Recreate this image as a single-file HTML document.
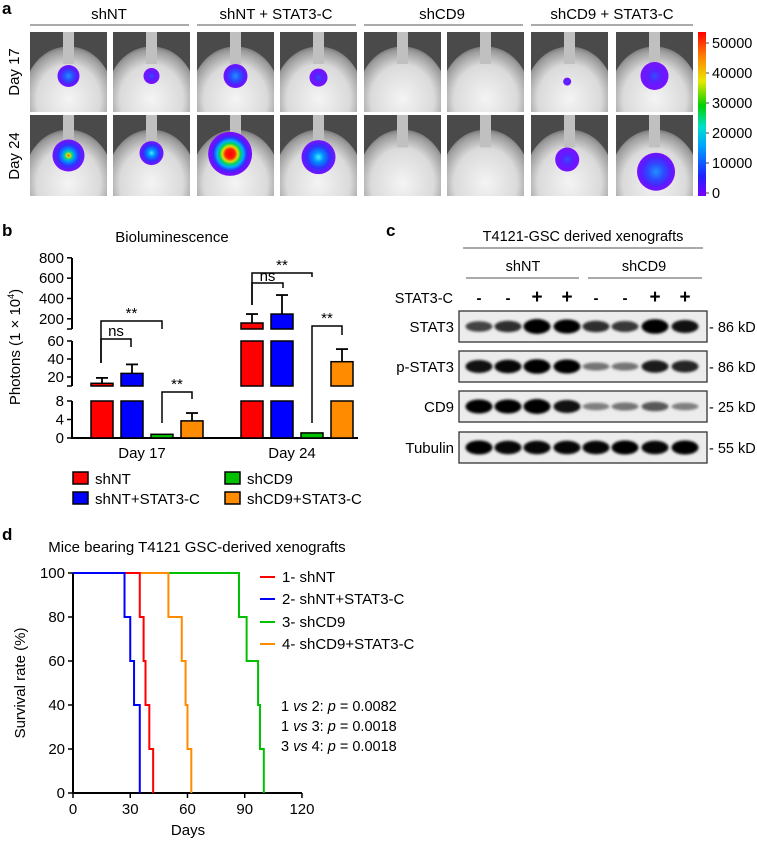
<!DOCTYPE html>
<html><head><meta charset="utf-8"><style>
html,body{margin:0;padding:0;background:#fff;}
svg{display:block;font-family:"Liberation Sans",Arial,sans-serif;}
</style></head><body>
<svg id="fig" width="757" height="841" viewBox="0 0 757 841" xmlns="http://www.w3.org/2000/svg">
<defs>
<linearGradient id="cbar" x1="0" y1="1" x2="0" y2="0">
<stop offset="0" stop-color="#7a00ff"/><stop offset="0.12" stop-color="#2020ff"/><stop offset="0.3" stop-color="#00a0ff"/><stop offset="0.42" stop-color="#00e0d0"/><stop offset="0.55" stop-color="#00d000"/><stop offset="0.7" stop-color="#e8e800"/><stop offset="0.85" stop-color="#ff8000"/><stop offset="1" stop-color="#ff0000"/>
</linearGradient>
<radialGradient id="mouse" cx="0.5" cy="0.55" r="0.6">
<stop offset="0" stop-color="#f4f4f4"/><stop offset="0.6" stop-color="#dadada"/><stop offset="0.85" stop-color="#9a9a9a"/><stop offset="1" stop-color="#505050"/>
</radialGradient>
<radialGradient id="hot"><stop offset="0" stop-color="#ff0000"/><stop offset="0.22" stop-color="#ff2000"/><stop offset="0.35" stop-color="#e0e000"/><stop offset="0.48" stop-color="#00d060"/><stop offset="0.6" stop-color="#00b0ff"/><stop offset="0.75" stop-color="#3030ff"/><stop offset="0.88" stop-color="#6a10ff"/><stop offset="1" stop-color="#7a10ff"/></radialGradient>
<radialGradient id="mid"><stop offset="0" stop-color="#ff2020"/><stop offset="0.1" stop-color="#e0e000"/><stop offset="0.25" stop-color="#00d0a0"/><stop offset="0.4" stop-color="#0090ff"/><stop offset="0.65" stop-color="#3030ff"/><stop offset="1" stop-color="#7a10ff"/></radialGradient>
<radialGradient id="cyan"><stop offset="0" stop-color="#40f0ff"/><stop offset="0.3" stop-color="#0090ff"/><stop offset="0.65" stop-color="#3030ff"/><stop offset="1" stop-color="#7a10ff"/></radialGradient>
<radialGradient id="blue"><stop offset="0" stop-color="#2090ff"/><stop offset="0.4" stop-color="#2a50ff"/><stop offset="0.75" stop-color="#5020ff"/><stop offset="1" stop-color="#7a10ff"/></radialGradient>
<radialGradient id="low"><stop offset="0" stop-color="#3050ff"/><stop offset="0.4" stop-color="#5a20ff"/><stop offset="1" stop-color="#7a10ff"/></radialGradient>
<filter id="blur" x="-30%" y="-80%" width="160%" height="260%"><feGaussianBlur stdDeviation="1.3"/></filter>
</defs>

<text x="2" y="14" font-size="17" font-weight="bold">a</text>
<g font-size="15" text-anchor="middle">
<text x="109" y="19">shNT</text>
<text x="276" y="19">shNT + STAT3-C</text>
<text x="442" y="19">shCD9</text>
<text x="612" y="19">shCD9 + STAT3-C</text>
<line x1="30" y1="25" x2="189" y2="25" stroke="#777" stroke-width="1.2"/>
<line x1="197" y1="25" x2="356" y2="25" stroke="#777" stroke-width="1.2"/>
<line x1="364" y1="25" x2="523" y2="25" stroke="#777" stroke-width="1.2"/>
<line x1="531" y1="25" x2="693" y2="25" stroke="#777" stroke-width="1.2"/>
</g>
<text font-size="15" text-anchor="middle" transform="translate(19,72) rotate(-90)">Day 17</text>
<text font-size="15" text-anchor="middle" transform="translate(19,156) rotate(-90)">Day 24</text>
<g id="mice"></g>
<rect x="698" y="32" width="8" height="164" fill="url(#cbar)"/>
<g id="cbarlabels" font-size="14.5"></g>

<text x="2" y="236" font-size="17" font-weight="bold">b</text>
<text x="172" y="242" font-size="15" text-anchor="middle">Bioluminescence</text>
<text font-size="15" text-anchor="middle" transform="translate(20,347) rotate(-90)">Photons (1 × 10<tspan font-size="9" dy="-6">4</tspan><tspan dy="6">)</tspan></text>
<g id="chartb"></g>

<text x="386" y="236" font-size="17" font-weight="bold">c</text>
<text x="583" y="241" font-size="14.5" text-anchor="middle">T4121-GSC derived xenografts</text>
<line x1="463" y1="248" x2="703" y2="248" stroke="#777" stroke-width="1.2"/>
<text x="523" y="271" font-size="14.5" text-anchor="middle">shNT</text>
<text x="644" y="271" font-size="14.5" text-anchor="middle">shCD9</text>
<line x1="466" y1="278" x2="579" y2="278" stroke="#777" stroke-width="1.2"/>
<line x1="588" y1="278" x2="702" y2="278" stroke="#777" stroke-width="1.2"/>
<text x="453" y="303" font-size="14.5" text-anchor="end">STAT3-C</text>
<g id="blot"></g>

<text x="2" y="540" font-size="17" font-weight="bold">d</text>
<text x="197" y="552" font-size="15" text-anchor="middle">Mice bearing T4121 GSC-derived xenografts</text>
<text font-size="15" text-anchor="middle" transform="translate(25,683) rotate(-90)">Survival rate (%)</text>
<text x="188" y="835" font-size="15" text-anchor="middle">Days</text>
<g id="chartd"></g>
<g font-size="14.5">
<text x="281" y="711">1 <tspan font-style="italic">vs</tspan> 2: <tspan font-style="italic">p</tspan> = 0.0082</text>
<text x="281" y="731">1 <tspan font-style="italic">vs</tspan> 3: <tspan font-style="italic">p</tspan> = 0.0018</text>
<text x="281" y="751">3 <tspan font-style="italic">vs</tspan> 4: <tspan font-style="italic">p</tspan> = 0.0018</text>
</g>
</svg>
<script>
const imgX = [30,113,197,280,364,447,531,616];
const cbarTicks = [0,10000,20000,30000,40000,50000];
const blobs = [
 [0,0,0.5,0.55,11,'blue'],[1,0,0.5,0.55,8,'low'],[2,0,0.5,0.55,12,'blue'],[3,0,0.5,0.57,9,'low'],
 [6,0,0.47,0.62,4,'low'],[7,0,0.5,0.55,14,'low'],
 [0,1,0.5,0.5,16,'mid'],[1,1,0.5,0.47,12,'cyan'],[2,1,0.43,0.48,22,'hot'],[3,1,0.5,0.52,17,'cyan'],
 [6,1,0.47,0.55,12,'low'],[7,1,0.52,0.7,19,'blue']
];
const NS='http://www.w3.org/2000/svg';
function mk(tag,attrs,parent){const e=document.createElementNS(NS,tag);for(const k in attrs)e.setAttribute(k,attrs[k]);if(parent)parent.appendChild(e);return e;}
const mice=document.getElementById('mice');
const rows=[[32,80],[115,81]];
imgX.forEach((x,i)=>{rows.forEach((r,ri)=>{
 const g=mk('g',{},mice);
 
 
 const cid='c'+i+'_'+ri;
 const cp=mk('clipPath',{id:cid},g);mk('rect',{x:x,y:r[0],width:77,height:r[1]},cp);
 const inner=mk('g',{'clip-path':'url(#'+cid+')'},g);
 mk('rect',{x:x,y:r[0],width:77,height:r[1],fill:'#4a4a4a'},inner);
 mk('ellipse',{cx:x+38.5,cy:r[0]+r[1]*0.78,rx:44,ry:r[1]*0.6,fill:'url(#mouse)'},inner);
 mk('rect',{x:x+33,y:r[0],width:11,height:r[1]*0.4,fill:'#c0c0c0'},inner);
});});
blobs.forEach(b=>{
 const x=imgX[b[0]],r=rows[b[1]];
 const c=mk('circle',{cx:x+77*b[2],cy:r[0]+r[1]*b[3],r:b[4],fill:'url(#'+b[5]+')'},mice);
 
 
});
const cbl=document.getElementById('cbarlabels');
cbarTicks.forEach(v=>{
 const y=193-v/50000*150;
 const t=mk('text',{x:712,y:y+5},cbl);t.textContent=v;
 
 
 mk('line',{x1:706,y1:y,x2:709,y2:y,stroke:'#444','stroke-width':1},cbl);
});

const groups = ['Day 17','Day 24'];
const seriesNames = ['shNT','shNT+STAT3-C','shCD9','shCD9+STAT3-C'];
const seriesColors = ['#ff0000','#0000ff','#00c000','#ff8c00'];
const day17Values = [13,24,0.8,3.7];
const day17Errors = [19,34,0.8,5.4];
const day24Values = [159,247,1.1,37];
const day24Errors = [247,434,1.1,51];
const lowTicks=[0,4,8], midTicks=[20,40,60], topTicks=[200,400,600,800];
function yB(v){ if(v<=8) return 438 - v*4.625; if(v<=60) return 386 - (v-10)*0.9; return 329 - (v-100)*0.1017; }
const cb=document.getElementById('chartb');
const axX=72;
[[438,401],[386,341],[329,258]].forEach(s=>mk('line',{x1:axX,y1:s[0],x2:axX,y2:s[1],stroke:'#000','stroke-width':2},cb));
mk('line',{x1:axX-1,y1:438,x2:358,y2:438,stroke:'#000','stroke-width':2},cb);
[lowTicks,midTicks,topTicks].flat().forEach(v=>{
 const y=yB(v);
 mk('line',{x1:axX-5,y1:y,x2:axX,y2:y,stroke:'#000','stroke-width':1.5},cb);
 const t=mk('text',{x:axX-8,y:y+5,'font-size':15,'text-anchor':'end'},cb);t.textContent=v;
 
 
});
[386,329].forEach(y=>mk('line',{x1:axX-5,y1:y,x2:axX,y2:y,stroke:'#000','stroke-width':1.5},cb));
const groupStart=[91,241], barW=22, barStep=30;
[day17Values,day24Values].forEach((vals,gi)=>{
 const errs=gi===0?day17Errors:day24Errors;
 vals.forEach((v,si)=>{
  const x=groupStart[gi]+si*barStep;
  const segs=[[0,Math.min(v,8)]];
  if(v>10) segs.push([10,Math.min(v,60)]);
  if(v>100) segs.push([100,v]);
  const e=errs[si];
  if(e>v){mk('line',{x1:x+barW/2,y1:yB(v),x2:x+barW/2,y2:yB(e),stroke:'#000','stroke-width':1.8},cb);
   mk('line',{x1:x+barW/2-6,y1:yB(e),x2:x+barW/2+6,y2:yB(e),stroke:'#000','stroke-width':1.8},cb);}
  segs.forEach(s=>{
   const r=mk('rect',{x:x,y:yB(s[1]),width:barW,height:yB(s[0])-yB(s[1]),fill:seriesColors[si],stroke:'#000','stroke-width':1.5},cb);
   
   
  });
 });
 const t=mk('text',{x:groupStart[gi]+51,y:458,'font-size':15,'text-anchor':'middle'},cb);t.textContent=groups[gi];
 
 
});
function bracket(x1,x2,y,d1,d2,label,ly){
 mk('polyline',{points:`${x1},${d1} ${x1},${y} ${x2},${y} ${x2},${d2}`,fill:'none',stroke:'#000','stroke-width':1.5},cb);
 const t=mk('text',{x:(x1+x2)/2,y:ly,'font-size':15,'text-anchor':'middle'},cb);t.textContent=label;
 
 
}
bracket(101,162,321,363,329,'**',318);
bracket(101,131,339,363,347,'ns',336);
bracket(162,192,392,423,399,'**',389);
bracket(252,312,273,305,277,'**',270);
bracket(252,283,283,305,288,'ns',281);
bracket(312,342,326,423,335,'**',323);
const legPos=[[73,472],[73,492],[225,472],[225,492]];
seriesNames.forEach((n,i)=>{
 const g=mk('g',{},cb);
 
 
 mk('rect',{x:legPos[i][0],y:legPos[i][1],width:15,height:12,fill:seriesColors[i],stroke:'#000','stroke-width':1.5},g);
 const t=mk('text',{x:legPos[i][0]+22,y:legPos[i][1]+12,'font-size':15},g);t.textContent=n;
});

const laneX=[479,508,537,567,596,625,655,685];
const laneSigns=['-','-','+','+','-','-','+','+'];
const blotNames=['STAT3','p-STAT3','CD9','Tubulin'];
const blotSizes=['86 kD','86 kD','25 kD','55 kD'];
const stat3Int=[0.55,0.65,1.0,0.9,0.65,0.6,0.95,0.8];
const pstat3Int=[0.8,0.85,0.95,0.9,0.3,0.3,0.75,0.7];
const cd9Int=[0.9,0.9,1.0,0.8,0.25,0.3,0.45,0.25];
const tubInt=[0.9,0.85,0.85,0.85,0.85,0.9,0.85,0.9];
const blotTop=[311,351,391,432];
const bl=document.getElementById('blot');
laneSigns.forEach((s,i)=>{const t=mk('text',{x:laneX[i],y:303,'font-size':s==='+'?19:15,'font-weight':'bold','text-anchor':'middle'},bl);t.textContent=s;
 
 });
[stat3Int,pstat3Int,cd9Int,tubInt].forEach((arr,bi)=>{
 const y=blotTop[bi];
 const g=mk('g',{},bl);
 
 
 mk('rect',{x:459,y:y,width:248,height:31,fill:'#ececec',stroke:'#333','stroke-width':1.3},g);
 arr.forEach((v,i)=>{
  const e=mk('ellipse',{cx:laneX[i],cy:y+15.5,rx:13.5,ry:2.5+5*v,fill:'#000','fill-opacity':Math.min(1,0.25+0.85*v),filter:'url(#blur)'},g);
  
  
 });
 const t=mk('text',{x:454,y:y+21,'font-size':15,'text-anchor':'end'},g);t.textContent=blotNames[bi];
 const k=mk('text',{x:709,y:y+21,'font-size':14.5},g);k.textContent='- '+blotSizes[bi];
});

const survNames=['1- shNT','2- shNT+STAT3-C','3- shCD9','4- shCD9+STAT3-C'];
const survColors=['#ff0000','#0000ff','#00c000','#ff8c00'];
const shNTDeaths=[35,37,38,40,42];
const shNTStatDeaths=[27,30,32,35,35];
const shCD9Deaths=[87,91,97,98,100];
const shCD9StatDeaths=[50,57,59,60,62];
const xTicks=[0,30,60,90,120], yTicks=[0,20,40,60,80,100];
const X=d=>73+d*1.908, Y=p=>793-p*2.2;
const cd=document.getElementById('chartd');
mk('line',{x1:X(0),y1:Y(0),x2:X(0),y2:Y(100),stroke:'#000','stroke-width':2},cd);
mk('line',{x1:X(0),y1:Y(0),x2:X(120),y2:Y(0),stroke:'#000','stroke-width':2},cd);
xTicks.forEach(v=>{mk('line',{x1:X(v),y1:Y(0),x2:X(v),y2:Y(0)+5,stroke:'#000','stroke-width':1.5},cd);
 const t=mk('text',{x:X(v),y:Y(0)+21,'font-size':15,'text-anchor':'middle'},cd);t.textContent=v;
 
 });
yTicks.forEach(v=>{mk('line',{x1:X(0)-5,y1:Y(v),x2:X(0),y2:Y(v),stroke:'#000','stroke-width':1.5},cd);
 const t=mk('text',{x:X(0)-8,y:Y(v)+5,'font-size':15,'text-anchor':'end'},cd);t.textContent=v;
 
 });
const drawOrder=[2,3,0,1];
const allDeaths=[shNTDeaths,shNTStatDeaths,shCD9Deaths,shCD9StatDeaths];
drawOrder.forEach(i=>{
 const deaths=allDeaths[i];let p=100;let pts=[[X(0),Y(100)]];
 deaths.forEach(d=>{pts.push([X(d),Y(p)]);p-=100/deaths.length;pts.push([X(d),Y(p)]);});
 const pl=mk('polyline',{points:pts.map(q=>q.join(',')).join(' '),fill:'none',stroke:survColors[i],'stroke-width':2},cd);
 
 
});
const legY=[577,599,622,644];
survNames.forEach((n,i)=>{
 const g=mk('g',{},cd);
 
 
 mk('line',{x1:260,y1:legY[i],x2:275,y2:legY[i],stroke:survColors[i],'stroke-width':2},g);
 const t=mk('text',{x:282,y:legY[i]+5,'font-size':15},g);t.textContent=n;
});
</script>
</body></html>
